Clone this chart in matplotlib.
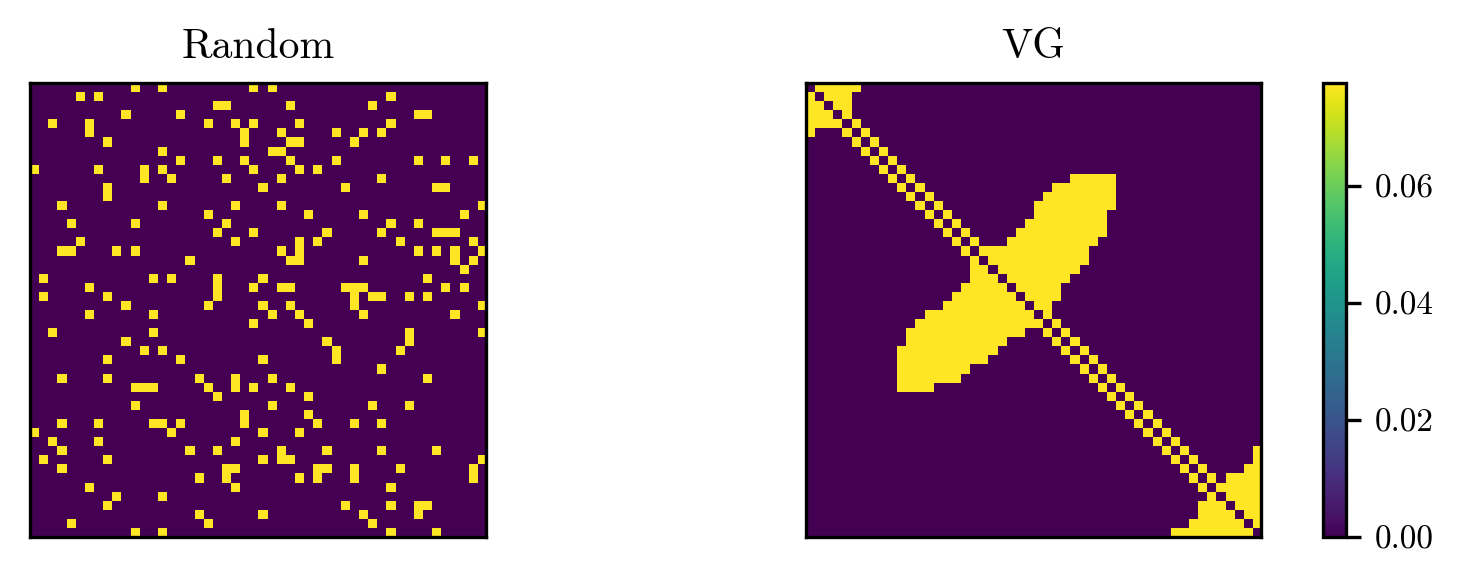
import numpy as np
import matplotlib
matplotlib.use("Agg")
import matplotlib.pyplot as plt

plt.rcParams['font.family'] = ['cmr10', 'DejaVu Serif']
plt.rcParams['axes.formatter.use_mathtext'] = True

# ---------------- data ----------------
N = 50
EDGE_WEIGHT = 0.0776          # value of a filled cell (top of colour bar)
CBAR_TICKS = [0.00, 0.02, 0.04, 0.06]
TITLES = ["Random", "VG"]

# Random matrix: filled columns for each row
random_rows = {
    0: [11, 14, 24, 26],
    1: [5, 7, 39],
    2: [20, 21, 28, 37],
    3: [10, 16, 42, 43],
    4: [2, 6, 19, 22, 24, 29, 39],
    5: [6, 23, 27, 33, 36, 38],
    6: [8, 23, 28, 29, 35],
    7: [14, 26, 27],
    8: [16, 20, 23, 28, 33, 42, 45, 48],
    9: [0, 7, 12, 14, 24, 29, 31],
    10: [12, 15, 21, 27, 38],
    11: [8, 25, 34, 44, 45],
    12: [8],
    13: [3, 14, 22, 27, 49],
    14: [19, 30, 36, 47],
    15: [4, 11, 21, 39, 42],
    16: [20, 24, 32, 38, 44, 45, 46],
    17: [5, 22, 29, 31, 40, 48],
    18: [3, 4, 9, 11, 27, 29, 42, 44, 46, 49],
    19: [17, 28, 29, 36, 46, 48],
    20: [47],
    21: [1, 13, 15, 20, 25, 43],
    22: [6, 20, 24, 27, 28, 34, 35, 36, 45, 47],
    23: [1, 8, 20, 35, 37, 38, 41, 43],
    24: [10, 19, 25, 28, 35, 49],
    25: [6, 13, 26, 29, 36, 46],
    26: [24, 30],
    27: [2, 13, 41, 49],
    28: [10, 32, 41],
    29: [12, 14, 33, 40],
    30: [8, 16, 25, 33],
    31: [38],
    32: [3, 8, 18, 22, 26, 43],
    33: [11, 12, 13, 19, 22, 24, 28],
    34: [20, 30],
    35: [11, 26, 37, 41],
    36: [23, 30],
    37: [3, 7, 13, 14, 16, 23, 31, 35, 38],
    38: [0, 15, 25, 29],
    39: [2, 7, 22],
    40: [3, 17, 20, 27, 32, 38, 44],
    41: [1, 8, 25, 27, 28, 49],
    42: [3, 21, 22, 31, 32, 35, 40, 48],
    43: [18, 21, 29, 31, 35, 48],
    44: [6, 22, 39],
    45: [9, 14],
    46: [8, 34, 39, 42, 43],
    47: [18, 25, 36, 42],
    48: [4, 19, 37],
    49: [11, 14, 39, 44],
}

# VG matrix (symmetric): upper-triangle neighbours of each row, besides i+1
vg_upper = {
    0: [2, 3, 4, 5],
    1: [3, 4],
    2: [4],
    10: list(range(29, 34)),
    11: list(range(27, 34)),
    12: list(range(26, 34)),
    13: list(range(25, 34)),
    14: list(range(25, 33)),
    15: list(range(24, 33)),
    16: list(range(23, 33)),
    17: list(range(22, 32)),
    18: list(range(20, 31)),
    19: list(range(21, 31)),
    20: list(range(22, 30)),
    21: list(range(23, 29)),
    22: list(range(24, 28)),
    23: list(range(25, 28)),
    24: [26],
    40: [49],
    41: [49],
    42: [48, 49],
    43: [46, 47, 48, 49],
    44: [46, 47, 48, 49],
    45: [47, 48, 49],
    46: [48, 49],
    47: [49],
}

# ---------------- build matrices ----------------
A_rand = np.zeros((N, N))
for r, cols in random_rows.items():
    A_rand[r, cols] = EDGE_WEIGHT

A_vg = np.zeros((N, N))
for i in range(N - 1):
    A_vg[i, i + 1] = EDGE_WEIGHT
for r, cols in vg_upper.items():
    A_vg[r, cols] = EDGE_WEIGHT
A_vg = np.maximum(A_vg, A_vg.T)

# ---------------- figure ----------------
W, H, DPI = 1467, 586, 300
fig = plt.figure(figsize=(W / DPI, H / DPI), dpi=DPI)

def frac(x0, y0, x1, y1):
    return [x0 / W, 1 - y1 / H, (x1 - x0) / W, (y1 - y0) / H]

ax1 = fig.add_axes(frac(30, 83, 486, 537))
ax2 = fig.add_axes(frac(806, 83, 1261, 537))
cax = fig.add_axes(frac(1323, 83, 1346, 537))

for ax, A, t in zip([ax1, ax2], [A_rand, A_vg], TITLES):
    im = ax.imshow(A, cmap='viridis', vmin=0, vmax=EDGE_WEIGHT,
                   interpolation='nearest', aspect='auto')
    ax.set_xticks([])
    ax.set_yticks([])
    ax.set_title(t, fontsize=10, pad=6)

cb = fig.colorbar(im, cax=cax, ticks=CBAR_TICKS)
cb.ax.yaxis.set_major_formatter(matplotlib.ticker.FormatStrFormatter('%.2f'))
cb.ax.tick_params(labelsize=8)

fig.savefig("out.png", dpi=DPI)
